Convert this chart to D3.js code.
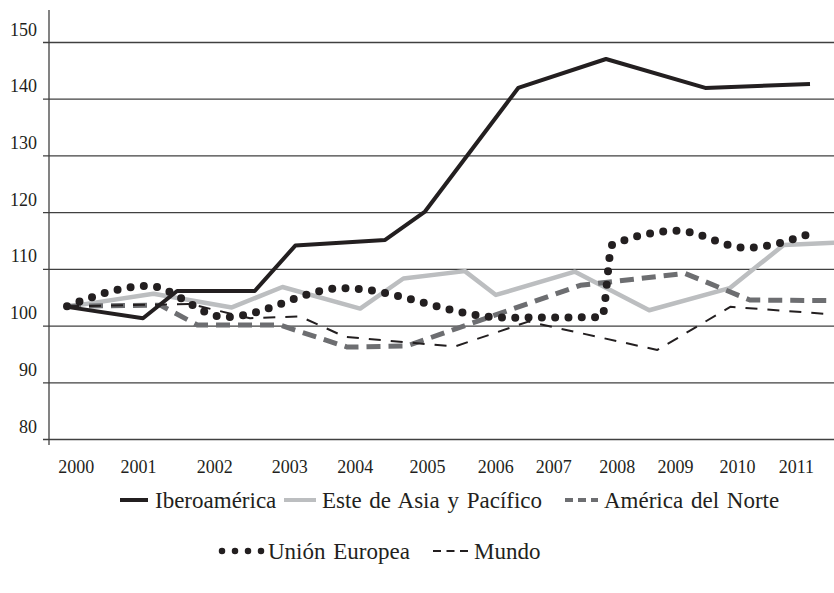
<!DOCTYPE html>
<html><head><meta charset="utf-8">
<script src="https://cdn.jsdelivr.net/npm/d3@7"></script>
<style>body{margin:0;background:#fff}svg{display:block}
svg text{font-family:"Liberation Serif","Tinos","Times New Roman","DejaVu Serif",serif}</style>
</head><body><svg id="c" width="834" height="593"></svg>
<script>
// ---- data ----
const yearLabels = ["2000","2001","2002","2003","2004","2005","2006","2007","2008","2009","2010","2011"];
const yearLabelAt = [2000.13, 2001.05, 2002.18, 2003.29, 2004.26, 2005.33, 2006.34, 2007.20, 2008.14, 2009.00, 2009.92, 2010.79];
const yTicks = [80, 90, 100, 110, 120, 130, 140, 150];

const iberoamerica = [[2000.00,103.3],[2001.125,101.3],[2001.63,106.1],[2002.78,106.1],[2003.38,114.1],[2004.71,115.1],[2005.30,120.1],[2006.68,141.9],[2007.98,147.0],[2009.45,141.9],[2011.00,142.6]];
const esteAsia = [[2000.00,103.3],[2001.28,105.6],[2002.44,103.2],[2003.19,106.8],[2004.34,103.0],[2004.98,108.3],[2005.89,109.6],[2006.35,105.4],[2007.52,109.5],[2008.62,102.7],[2009.81,106.6],[2010.61,114.2],[2011.36,114.6]];
const americaNorte = [[2000.00,103.4],[2001.38,103.6],[2001.93,100.1],[2003.15,100.1],[2004.15,96.2],[2005.03,96.4],[2007.60,107.1],[2009.15,109.2],[2010.11,104.5],[2011.36,104.4]];
const unionEuropea = [[2000.00,103.4],[2001.20,107.0],[2002.34,101.5],[2004.09,106.6],[2006.49,101.4],[2007.92,101.5],[2008.07,114.2],[2009.05,116.7],[2010.05,113.7],[2011.07,116.5]];
const mundo = [[2000.00,103.4],[2001.82,103.8],[2002.71,101.3],[2003.45,101.6],[2004.12,98.0],[2005.74,96.3],[2006.83,100.7],[2008.74,95.7],[2009.82,103.3],[2011.30,102.0]];

const seriesNames = ["Iberoamérica","Este de Asia y Pacífico","América del Norte","Unión Europea","Mundo"];

// ---- layout ----
const svg = d3.select("#c");
const font = "Liberation Serif, Tinos, Times New Roman, DejaVu Serif, serif";
const axisX = 49, plotRight = 834, plotTop = 42, plotBottom = 439;
const x = d3.scaleLinear().domain([2000, 2011]).range([67, 810]);
const y = d3.scaleLinear().domain([80, 150]).range([plotBottom, plotTop]);

// gridlines + y labels
const gy = svg.append("g").attr("transform", `translate(${axisX},0)`)
  .call(d3.axisLeft(y).tickValues(yTicks).tickSize(-(plotRight - axisX)).tickSizeOuter(0).tickPadding(12));
gy.attr("font-family", null).attr("font-size", null);
gy.select(".domain").remove();
gy.selectAll(".tick line").attr("x1", -6).attr("stroke", "#404040").attr("stroke-width", 1.3);
gy.selectAll(".tick text").style("font-family", font).style("font-size", "18px").attr("fill", "#231f20")
  .attr("dy", null).attr("y", -7);

// y axis line
svg.append("line").attr("x1", axisX).attr("x2", axisX).attr("y1", 10).attr("y2", plotBottom + 6)
  .attr("stroke", "#404040").attr("stroke-width", 1.3);

// x labels
const gx = svg.append("g").attr("transform", `translate(0,${plotBottom})`)
  .call(d3.axisBottom(x).tickValues(yearLabelAt).tickFormat((d, i) => yearLabels[i]).tickSize(0).tickPadding(21));
gx.attr("font-family", null).attr("font-size", null);
gx.select(".domain").remove();
gx.selectAll(".tick text").style("font-family", font).style("font-size", "18px").attr("fill", "#231f20");

// ---- lines ----
const lineLin = d3.line().x(d => x(d[0])).y(d => y(d[1]));
const lineSmooth = d3.line().x(d => x(d[0])).y(d => y(d[1])).curve(d3.curveMonotoneX);

const styles = {
  ibero: {stroke: "#231f20", width: 4, dash: null, cap: "butt"},
  este: {stroke: "#bcbec0", width: 4.5, dash: null, cap: "butt"},
  norte: {stroke: "#6d6e71", width: 5, dash: "14,8", cap: "butt"},
  ue: {stroke: "#231f20", width: 8, dash: "0,13.3", cap: "round"},
  mundo: {stroke: "#231f20", width: 2, dash: "12,10", cap: "butt"}
};
function draw(data, st, gen) {
  svg.append("path").attr("d", gen(data)).attr("fill", "none")
    .attr("stroke", st.stroke).attr("stroke-width", st.width)
    .attr("stroke-dasharray", st.dash).attr("stroke-linecap", st.cap).attr("stroke-linejoin", "round");
}
draw(esteAsia, styles.este, lineLin);
draw(americaNorte, styles.norte, lineLin);
draw(mundo, styles.mundo, lineLin);
draw(iberoamerica, styles.ibero, lineLin);
draw(unionEuropea, styles.ue, lineSmooth);

// ---- legend ----
const legendItems = [
  {name: seriesNames[0], st: styles.ibero, x1: 120, x2: 148, tx: 155, y: 500, dash: null},
  {name: seriesNames[1], st: styles.este, x1: 284, x2: 316, tx: 322, y: 500, dash: null},
  {name: seriesNames[2], st: styles.norte, x1: 565, x2: 598, tx: 604, y: 500, dash: "8,5"},
  {name: seriesNames[3], st: styles.ue, x1: 222, x2: 262, tx: 268, y: 551, dash: "0,13"},
  {name: seriesNames[4], st: styles.mundo, x1: 433, x2: 468, tx: 474, y: 551, dash: "8,5.5"}
];
const lg = svg.append("g");
legendItems.forEach(it => {
  lg.append("line").attr("x1", it.x1).attr("x2", it.x2).attr("y1", it.y).attr("y2", it.y)
    .attr("stroke", it.st.stroke).attr("stroke-width", it.st === styles.ue ? 6.5 : Math.min(it.st.width, 4))
    .attr("stroke-dasharray", it.dash).attr("stroke-linecap", it.st.cap);
  lg.append("text").attr("x", it.tx).attr("y", it.y).attr("dy", "0.35em")
    .style("font-family", font).style("font-size", "23px").style("word-spacing", "2px")
    .attr("fill", "#231f20").text(it.name);
});
</script></body></html>
